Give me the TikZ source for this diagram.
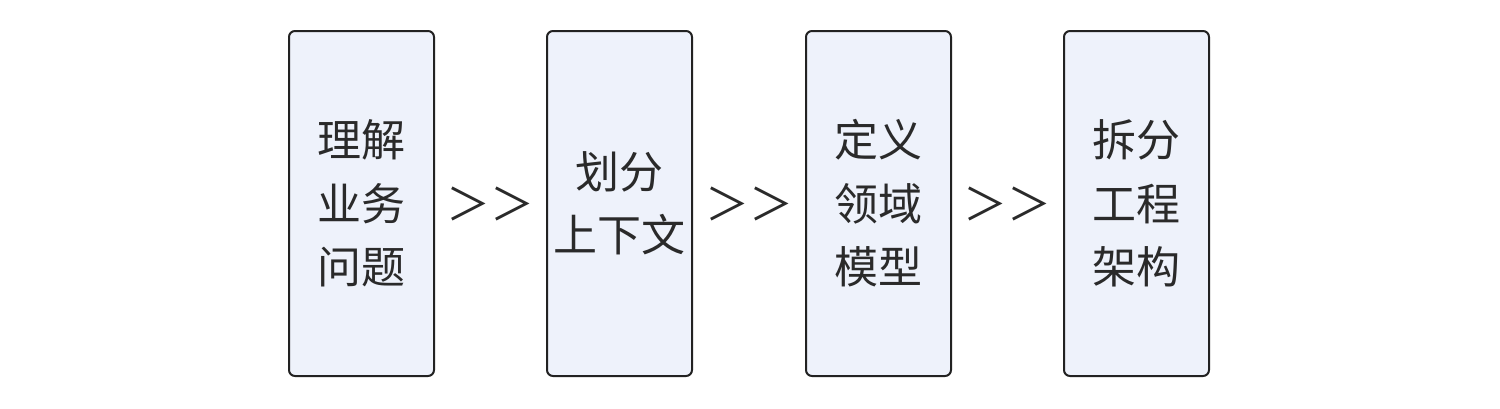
\documentclass[tikz,border=0pt]{standalone}
\usepackage{fontspec}
\usetikzlibrary{calc}
\newfontfamily\cjk{Noto Sans CJK SC}
\definecolor{boxfill}{HTML}{EEF2FB}
\definecolor{boxline}{HTML}{222222}
\definecolor{txt}{HTML}{2A2A2A}
\begin{document}
\begin{tikzpicture}[x=1pt,y=-1pt,
  stepbox/.style={draw=boxline, line width=2pt, fill=boxfill, rounded corners=6pt,
    minimum width=145pt, minimum height=345pt, inner sep=0pt,
    font=\cjk\fontsize{44}{63.5}\selectfont, text=txt, align=center},
  sep/.style={font=\cjk\fontsize{44}{60}\selectfont, text=txt, inner sep=0pt}]
\useasboundingbox (0,0) rectangle (1500,408);
\node[stepbox] (a) at (361.5,203.5) {理解\\业务\\问题};
\node[stepbox] (b) at (619.5,203.5) {划分\\上下文};
\node[stepbox] (c) at (878.5,203.5) {定义\\领域\\模型};
\node[stepbox] (d) at (1136.5,203.5) {拆分\\工程\\架构};
\node[sep] (s1) at ($(a.east)!0.5!(b.west)$) {＞＞};
\node[sep] (s2) at ($(b.east)!0.5!(c.west)$) {＞＞};
\node[sep] (s3) at ($(c.east)!0.5!(d.west)$) {＞＞};
\end{tikzpicture}
\end{document}
